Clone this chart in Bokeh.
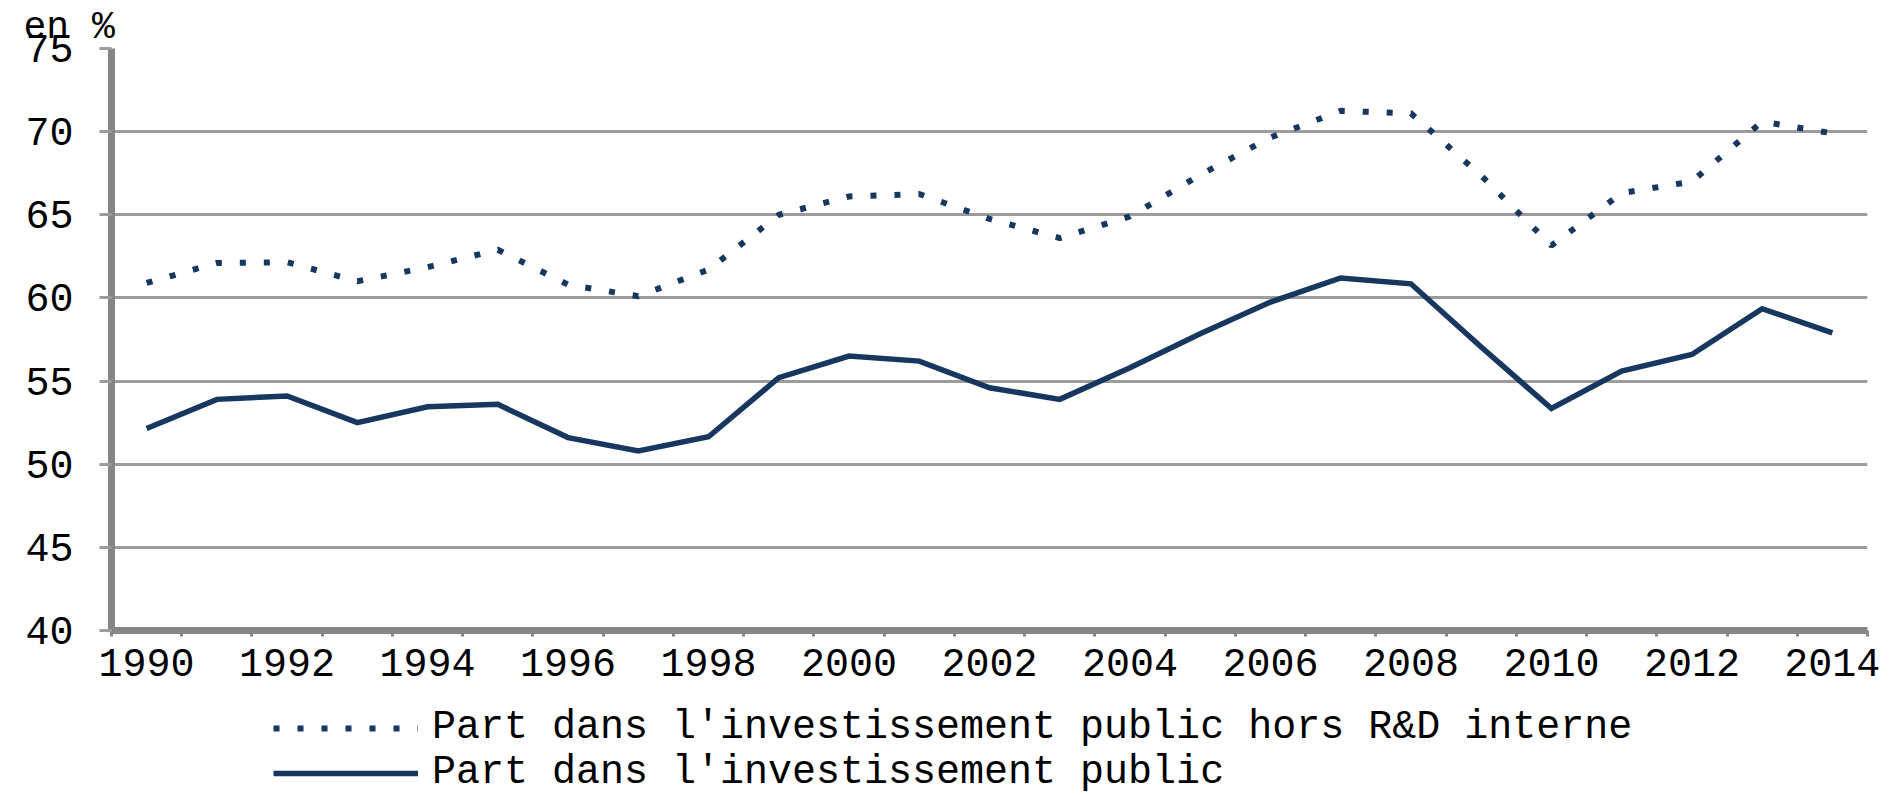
from bokeh.plotting import figure
from bokeh.models import FixedTicker, Legend, LegendItem, Range1d
from bokeh.layouts import column
from bokeh.embed import file_html
from bokeh.resources import INLINE

years = list(range(1990, 2015))
part_public = [52.15, 53.9, 54.1, 52.5, 53.45, 53.6, 51.6, 50.8, 51.65, 55.2, 56.5, 56.2, 54.6,
               53.9, 55.8, 57.85, 59.75, 61.2, 60.85, 57.05, 53.35, 55.6, 56.6, 59.35, 57.9]
part_hors_rd = [60.9, 62.1, 62.15, 61.0, 61.85, 62.9, 60.8, 60.1, 61.7, 65.0, 66.1, 66.25, 64.75,
                63.6, 64.9, 67.4, 69.65, 71.25, 71.1, 67.35, 63.15, 66.3, 67.0, 70.6, 69.9]
label_hors_rd = "Part dans l'investissement public hors R&D interne"
label_public = "Part dans l'investissement public"
x_label_years = list(range(1990, 2015, 2))
y_ticks = [40, 45, 50, 55, 60, 65, 70, 75]

FONT = "Liberation Mono"
FS = "40px"
STYLE = "normal"
NAVY = "#17375E"
GRID = "#9C9C9C"
AXIS = "#868686"

W = 1893
p = figure(width=W, height=700, output_backend="svg", toolbar_location=None,
           x_range=Range1d(1989.5, 2014.5), y_range=Range1d(40, 75),
           min_border_left=111, min_border_right=26, min_border_top=48, min_border_bottom=70)
p.outline_line_color = None
p.background_fill_color = "white"
p.border_fill_color = "white"

p.title.text = "en %"
p.title.text_font = FONT
p.title.text_font_size = "38px"
p.title.text_font_style = STYLE
p.title.text_color = "black"
p.title.align = "left"
p.title.offset = -88
p.title.standoff = 0

line_hors = dict(line_color=NAVY, line_width=6, line_dash="6 18", line_cap="butt")
line_pub = dict(line_color=NAVY, line_width=5.5, line_join="miter")
p.line(years, part_hors_rd, **line_hors)
p.line(years, part_public, **line_pub)

# axes
xa = p.xaxis[0]
xa.ticker = FixedTicker(ticks=x_label_years, minor_ticks=[y - 0.5 for y in years] + [2014.5])
xa.major_tick_line_color = None
xa.major_tick_out = 0
xa.major_tick_in = 0
xa.minor_tick_line_color = AXIS
xa.minor_tick_line_width = 3
xa.minor_tick_out = 6
xa.minor_tick_in = 0
xa.axis_line_color = AXIS
xa.axis_line_width = 7
xa.major_label_text_font = FONT
xa.major_label_text_font_size = FS
xa.major_label_text_font_style = STYLE
xa.major_label_text_color = "black"
xa.major_label_standoff = 12

ya = p.yaxis[0]
ya.ticker = FixedTicker(ticks=y_ticks)
ya.minor_tick_line_color = None
ya.major_tick_line_color = GRID
ya.major_tick_line_width = 3
ya.major_tick_out = 12
ya.major_tick_in = 0
ya.axis_line_color = AXIS
ya.axis_line_width = 7
ya.major_label_text_font = FONT
ya.major_label_text_font_size = FS
ya.major_label_text_font_style = STYLE
ya.major_label_text_color = "black"
ya.major_label_standoff = 26

p.xgrid.grid_line_color = None
p.ygrid.ticker = FixedTicker(ticks=y_ticks)
p.ygrid.grid_line_color = GRID
p.ygrid.grid_line_width = 3

# legend strip below the chart (same series, drawn outside its visible range)
pl = figure(width=W, height=95, output_backend="svg", toolbar_location=None,
            x_range=Range1d(0, 1), y_range=Range1d(0, 1),
            x_axis_location=None, y_axis_location=None, min_border=0)
pl.outline_line_color = None
pl.grid.grid_line_color = None
pl.border_fill_color = "white"
lr1 = pl.line(years, part_hors_rd, **line_hors)
lr2 = pl.line(years, part_public, **line_pub)

legend = Legend(items=[LegendItem(label=label_hors_rd, renderers=[lr1]),
                       LegendItem(label=label_public, renderers=[lr2])],
                orientation="vertical", location=(162, 0))
legend.label_text_font = FONT
legend.label_text_font_size = FS
legend.label_text_font_style = STYLE
legend.label_text_color = "black"
legend.glyph_width = 145
legend.glyph_height = 34
legend.label_height = 34
legend.label_standoff = 14
legend.spacing = -3
legend.padding = 0
legend.margin = 0
legend.border_line_color = None
legend.background_fill_alpha = 0
pl.add_layout(legend, "center")

layout = column(p, pl, spacing=0)
open("out.html", "w").write(file_html(layout, INLINE))
